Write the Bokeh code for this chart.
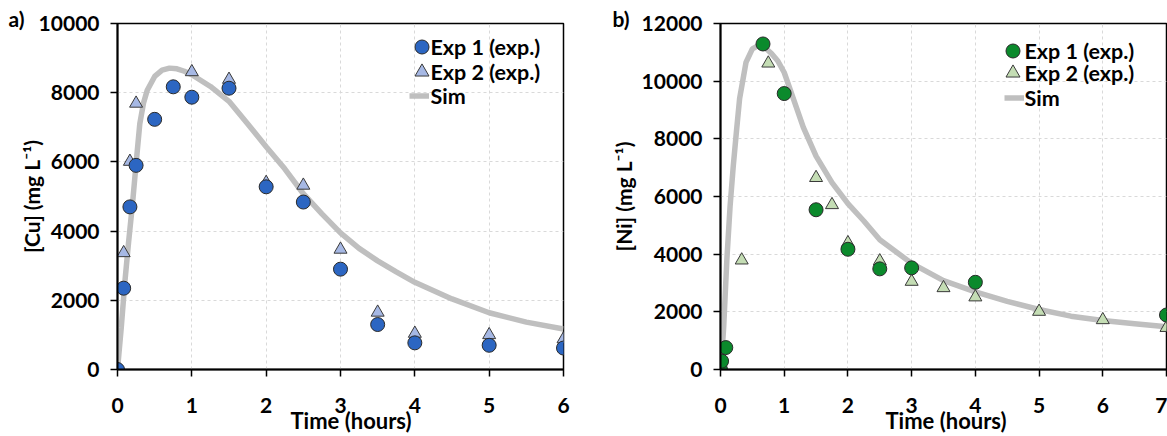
from bokeh.plotting import figure
from bokeh.layouts import row
from bokeh.models import Range1d, Legend, LegendItem, FixedTicker, Title, Label
from bokeh.embed import file_html
from bokeh.resources import INLINE

# ---------------- data: panel a (Cu) ----------------
cu_exp1_t = [0, 0.083, 0.167, 0.25, 0.5, 0.75, 1.0, 1.5, 2.0, 2.5, 3.0, 3.5, 4.0, 5.0, 6.0]
cu_exp1_c = [0, 2350, 4700, 5900, 7230, 8170, 7870, 8130, 5280, 4840, 2900, 1300, 770, 700, 620]
cu_exp2_t = [0, 0.083, 0.167, 0.25, 1.0, 1.5, 2.0, 2.5, 3.0, 3.5, 4.0, 5.0, 6.0]
cu_exp2_c = [0, 3370, 6010, 7690, 8600, 8380, 5400, 5320, 3470, 1650, 1040, 1000, 880]
cu_sim_t = [0, 0.05, 0.1, 0.15, 0.2, 0.25, 0.3, 0.35, 0.4, 0.5, 0.6, 0.7, 0.8, 0.9, 1.0,
            1.25, 1.5, 1.75, 2.0, 2.25, 2.5, 2.75, 3.0, 3.25, 3.5, 3.75, 4.0, 4.5, 5.0, 5.5, 6.0]
cu_sim_c = [0, 1200, 2550, 3700, 4750, 5950, 7100, 7700, 8070, 8470, 8650, 8710, 8690, 8620, 8520,
            8180, 7750, 7100, 6440, 5800, 5080, 4500, 3950, 3500, 3140, 2820, 2520, 2040, 1640, 1370, 1170]

# ---------------- data: panel b (Ni) ----------------
ni_exp1_t = [0, 0.017, 0.083, 0.667, 1.0, 1.5, 2.0, 2.5, 3.0, 4.0, 7.0]
ni_exp1_c = [0, 290, 760, 11290, 9570, 5540, 4170, 3490, 3525, 3025, 1890]
ni_exp2_t = [0, 0.333, 0.75, 1.5, 1.75, 2.0, 2.5, 3.0, 3.5, 4.0, 5.0, 6.0, 7.0]
ni_exp2_c = [0, 3790, 10620, 6650, 5710, 4390, 3760, 3050, 2830, 2510, 2010, 1720, 1450]
ni_sim_t = [0, 0.016, 0.05, 0.1, 0.15, 0.2, 0.25, 0.3, 0.4, 0.5, 0.6, 0.7, 0.8, 0.9, 1.0, 1.15, 1.3,
            1.5, 1.75, 2.0, 2.25, 2.5, 3.0, 3.5, 4.0, 4.5, 5.0, 5.5, 6.0, 6.5, 7.0]
ni_sim_c = [0, 300, 1480, 3820, 5650, 7050, 8250, 9400, 10650, 11120, 11240, 11160, 10960, 10700, 10300,
            9350, 8400, 7400, 6480, 5750, 5150, 4500, 3680, 3080, 2690, 2360, 2080, 1850, 1700, 1590, 1480]

x_label = "Time (hours)"
y_label_a = "[Cu] (mg L\u207b\u00b9)"
y_label_b = "[Ni] (mg L\u207b\u00b9)"
legend_labels = ["Exp 1 (exp.)", "Exp 2 (exp.)", "Sim"]

FONT = "Lato"
SIM_COLOR = "#BFBFBF"


def glyph_legend(renderer, loc, gw, gh):
    """Legend entry that only draws the glyph sample (its text is a separate Label)."""
    return Legend(items=[LegendItem(label=" ", renderers=[renderer])], location=loc,
                  padding=0, margin=0, spacing=0, glyph_width=gw, glyph_height=gh,
                  label_height=gh, label_standoff=0, label_text_font_size="8px",
                  border_line_alpha=0, background_fill_alpha=0)


def make_panel(tag, t1, c1, t2, c2, ts, cs, xmax, ymax, ystep, ylab,
               col1, col2, width, height, bl, br, bt, bb, leg_locs, txt_x, txt_ys,
               tag_off, x_std, xt_off, xt_std, y_lstd):
    p = figure(width=width, height=height, output_backend="svg", toolbar_location=None,
               x_range=Range1d(0, xmax), y_range=Range1d(0, ymax),
               min_border_left=bl, min_border_right=br, min_border_top=bt, min_border_bottom=bb)
    p.outline_line_color = "black"
    p.outline_line_width = 1.5
    p.background_fill_color = "white"
    p.border_fill_color = "white"

    # panel tag ("a)" / "b)") as the figure title, pulled down to the frame's top edge
    p.title.text = tag
    p.title.align = "left"
    p.title.offset = tag_off
    p.title.standoff = -14
    p.title.text_font = FONT
    p.title.text_font_style = "bold"
    p.title.text_font_size = "21px"
    p.title.text_color = "black"

    for ax in (p.xaxis[0], p.yaxis[0]):
        ax.axis_line_color = "black"
        ax.axis_line_width = 2
        ax.major_tick_line_color = "black"
        ax.major_tick_line_width = 1.5
        ax.major_tick_in = 0
        ax.major_tick_out = 7
        ax.minor_tick_line_color = None
        ax.major_label_text_font = FONT
        ax.major_label_text_font_style = "bold"
        ax.major_label_text_font_size = "21px"
        ax.major_label_text_color = "black"
        ax.axis_label_text_font = FONT
        ax.axis_label_text_font_style = "bold"
        ax.axis_label_text_color = "black"

    p.xaxis.ticker = FixedTicker(ticks=list(range(0, xmax + 1)))
    p.yaxis.ticker = FixedTicker(ticks=list(range(0, ymax + 1, ystep)))
    p.xaxis.major_label_standoff = x_std
    p.yaxis.axis_label = ylab
    p.yaxis.axis_label_text_font_size = "21px"
    p.yaxis.major_label_standoff = 11
    p.yaxis.axis_label_standoff = y_lstd

    # x-axis title as a "below" title so that its vertical place can be tuned
    xt = Title(text=x_label, align="left", offset=xt_off, standoff=xt_std,
               vertical_align="bottom", text_font=FONT, text_font_style="bold",
               text_font_size="22px", text_color="black")
    p.add_layout(xt, "below")

    for g in (p.xgrid[0], p.ygrid[0]):
        g.grid_line_color = "#D9D9D9"
        g.grid_line_dash = "3 3"
        g.grid_line_width = 1

    rs = p.line(ts, cs, line_color=SIM_COLOR, line_width=5.5)
    r2 = p.scatter(t2, c2, marker="triangle", size=13, fill_color=col2,
                   line_color="#3A3A3A", line_width=1)
    r1 = p.scatter(t1, c1, marker="circle", size=14, fill_color=col1,
                   line_color="#2A2A2A", line_width=1)

    # legend: glyph samples (35 px boxes give 14 px markers) + text labels
    p.add_layout(glyph_legend(r1, leg_locs[0], 35, 35))
    p.add_layout(glyph_legend(r2, leg_locs[1], 35, 35))
    p.add_layout(glyph_legend(rs, leg_locs[2], 20, 25))
    for lab, ty in zip(legend_labels, txt_ys):
        p.add_layout(Label(x=txt_x, y=ty, x_units="screen", y_units="screen", text=lab,
                           text_font=FONT, text_font_style="bold", text_font_size="21.5px",
                           text_color="black", text_align="left", text_baseline="middle"))
    return p


pa = make_panel("a)", cu_exp1_t, cu_exp1_c, cu_exp2_t, cu_exp2_c, cu_sim_t, cu_sim_c,
                6, 10000, 2000, y_label_a, "#2C66C2", "#A6B8E4",
                590, 436, 117, 27, 21, 67,
                [(287, 305), (287, 280), (292, 261)], 313, [323, 298, 274],
                -109, 21, 173, -21, -8)
pb = make_panel("b)", ni_exp1_t, ni_exp1_c, ni_exp2_t, ni_exp2_c, ni_sim_t, ni_sim_c,
                7, 12000, 2000, y_label_b, "#0B8A2C", "#C4DDB4",
                577, 436, 130, 1, 23, 67,
                [(275, 301), (275, 279), (284, 259)], 304, [319, 297, 272],
                -108, 21, 165, -21, 3)

layout = row(pa, pb, spacing=0)
open("out.html", "w").write(file_html(layout, INLINE))
